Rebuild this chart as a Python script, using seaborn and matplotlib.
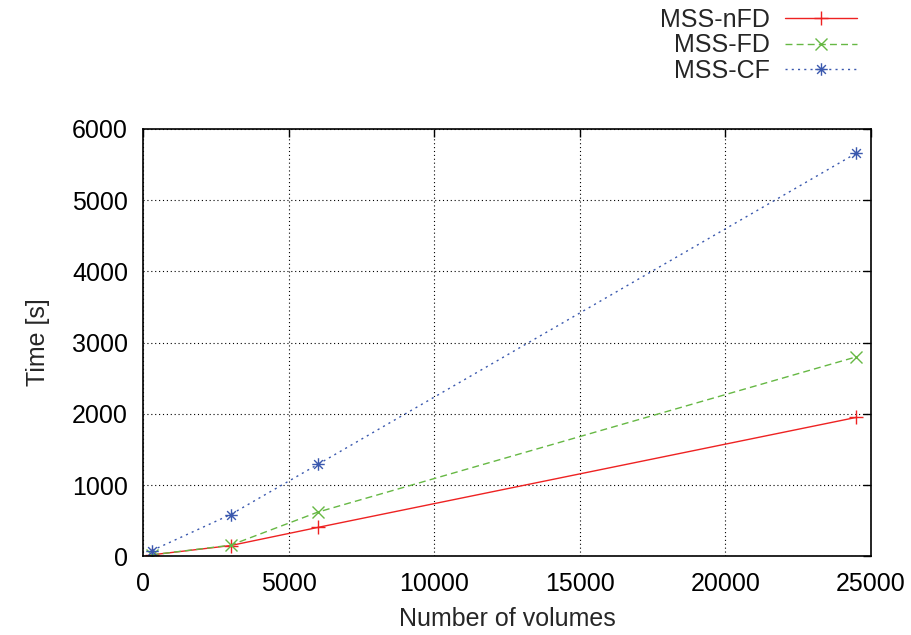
import matplotlib
matplotlib.use("Agg")
import matplotlib.pyplot as plt
import seaborn as sns
import pandas as pd
from matplotlib.path import Path

volumes = [300, 3000, 6000, 24500]
nfd = [20, 150, 405, 1950]
fd = [20, 155, 620, 2800]
cf = [80, 585, 1290, 5660]
series_names = ["MSS-nFD", "MSS-FD", "MSS-CF"]

sns.set_theme(style="white")
plt.rcParams['font.family'] = ['Liberation Sans', 'DejaVu Sans']
FS = 18

df = pd.DataFrame({
    "volumes": volumes * 3,
    "time": nfd + fd + cf,
    "series": sum([[n] * len(volumes) for n in series_names], []),
})

ast = Path([(-1, 0), (1, 0), (0, -1), (0, 1), (-0.7, -0.7), (0.7, 0.7), (-0.7, 0.7), (0.7, -0.7)],
           [Path.MOVETO, Path.LINETO] * 4)

fig = plt.figure(figsize=(9.12, 6.35), dpi=100)
ax = fig.add_axes([0.157, 0.124, 0.798, 0.673])

styles = {
    "MSS-nFD": dict(color="#ee2222", linestyle="-", marker="+", ms=10),
    "MSS-FD": dict(color="#66b844", linestyle=(0, (5, 3)), marker="x", ms=8),
    "MSS-CF": dict(color="#3a58ae", linestyle=(0, (1.5, 3)), marker=ast, ms=9),
}
for name in series_names:
    st = styles[name]
    sub = df[df.series == name]
    sns.lineplot(data=sub, x="volumes", y="time", ax=ax, label=name,
                 color=st["color"], linestyle=st["linestyle"], linewidth=1.0,
                 marker=st["marker"], markersize=st["ms"], markeredgewidth=1.0,
                 markeredgecolor=st["color"], markerfacecolor="none")

ax.set_xlim(0, 25000)
ax.set_ylim(0, 6000)
ax.set_xticks([0, 5000, 10000, 15000, 20000, 25000])
ax.set_yticks([0, 1000, 2000, 3000, 4000, 5000, 6000])
ax.grid(True, color="black", linestyle=(0, (1, 2.5)), linewidth=0.8)
ax.tick_params(direction="in", length=6, width=1, top=True, right=True,
               labelsize=FS, colors="black", pad=11)
for s in ax.spines.values():
    s.set_color("black")
    s.set_linewidth(1.2)
ax.set_xlabel("Number of volumes", fontsize=FS, labelpad=8)
ax.set_ylabel("Time [s]", fontsize=FS, labelpad=16)

leg = ax.legend(loc="upper right", bbox_to_anchor=(0.951, 1.003), bbox_transform=fig.transFigure,
                markerfirst=False, frameon=False, handlelength=2.9, fontsize=FS,
                labelspacing=0.05, handletextpad=0.6, borderaxespad=0.0)
for t in leg.get_texts():
    t.set_ha("right")
    t.set_position((0, 0))

fig.savefig("out.png", dpi=100)
